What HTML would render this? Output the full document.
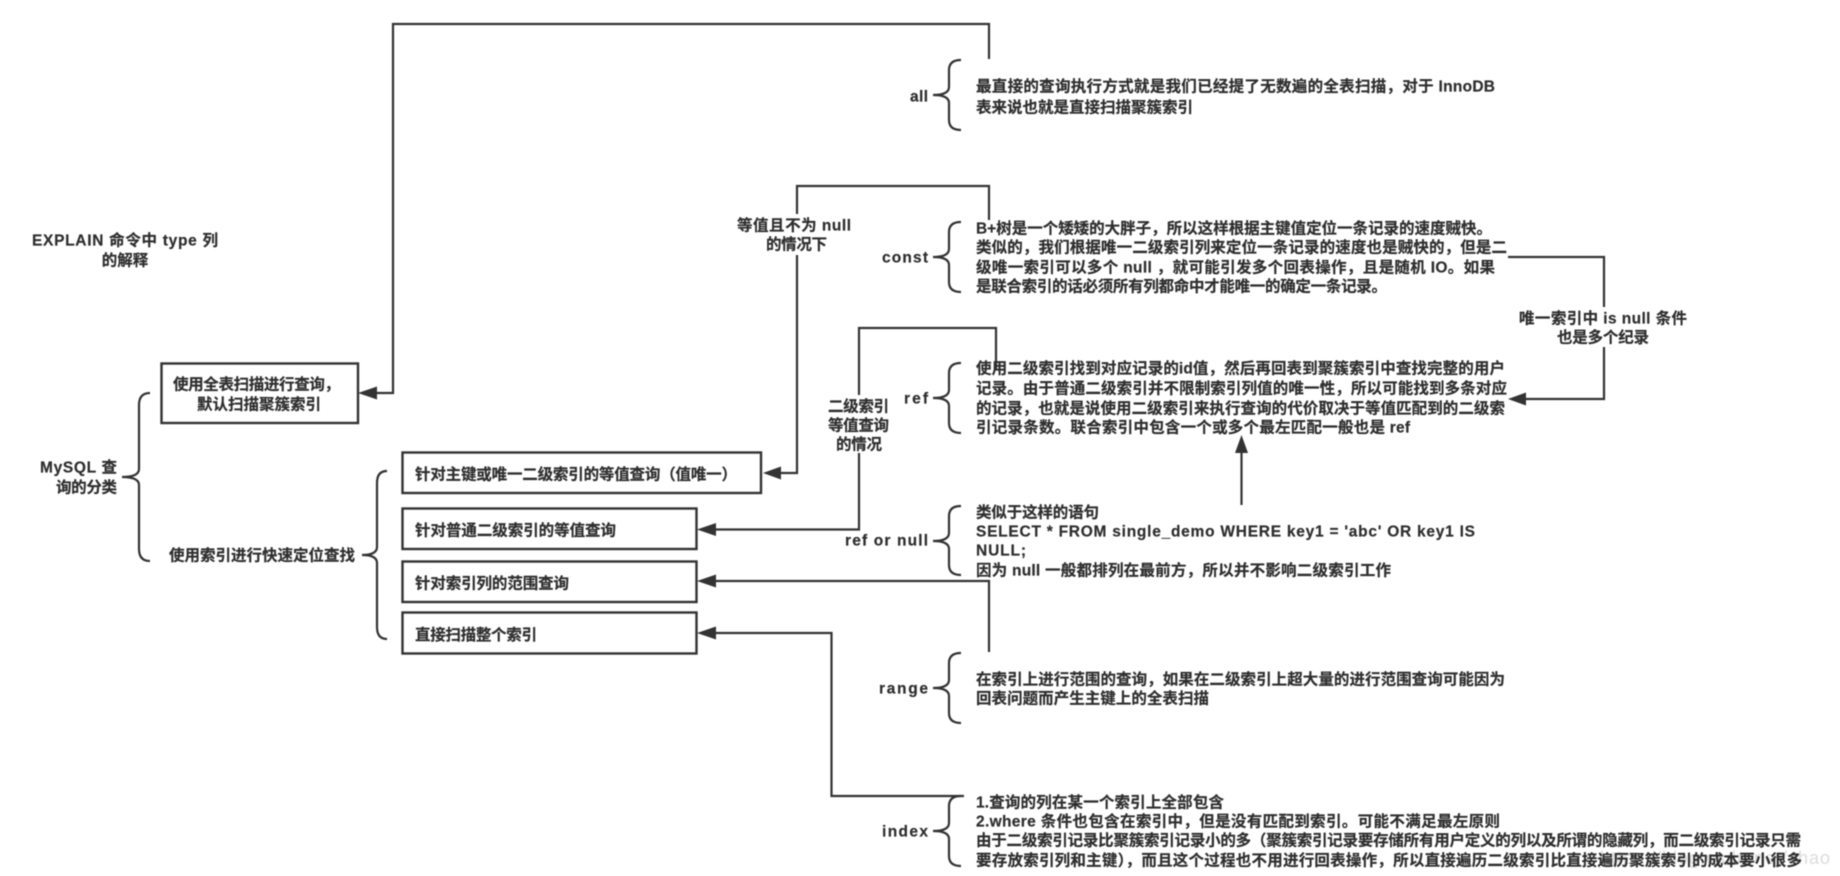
<!DOCTYPE html>
<html><head><meta charset="utf-8"><style>
html,body{margin:0;padding:0;background:#fff;width:1840px;height:876px;overflow:hidden}
svg{display:block;filter:blur(.5px)}
text{font-family:"Liberation Sans","Noto Sans CJK SC",sans-serif;font-size:15.5px;font-weight:bold;fill:#2e2e2e;stroke:#2e2e2e;stroke-width:.2px;dominant-baseline:central}
.l{fill:none;stroke:#333;stroke-width:2.2}
.b{fill:#fff;stroke:#333;stroke-width:2.4}
.a{fill:#333;stroke:none}
</style></head><body>
<svg width="1840" height="876" viewBox="0 0 1840 876" xmlns="http://www.w3.org/2000/svg">
<!-- watermark -->
<text x="1600" y="858" textLength="230" style="fill:#dcdcdc;stroke:none;font-weight:normal;font-size:18px">https://blog.csdn.net/shao</text>
<!-- connectors -->
<path class="l" d="M989 59V24H393V393H376"/>
<path class="a" d="M358 393L377 386.500V399.500Z"/>
<path class="l" d="M989 220V186H797V214M797 255V473H780"/>
<path class="a" d="M763 473L781 466.500V479.500Z"/>
<path class="l" d="M996 370V328H859V395M859 453V529.500H715"/>
<path class="a" d="M697 529.500L716 523V536Z"/>
<path class="l" d="M989 652V581H715"/>
<path class="a" d="M697 581L716 574.500V587.500Z"/>
<path class="l" d="M964 796H831.5V633H715"/>
<path class="a" d="M697 633L716 626.500V639.500Z"/>
<path class="l" d="M1508 257H1604V307M1604 347V399H1525"/>
<path class="a" d="M1508 399L1526 392.500V405.500Z"/>
<path class="l" d="M1241.5 505V450"/>
<path class="a" d="M1241.5 435L1235 453H1248Z"/>
<!-- boxes -->
<rect class="b" x="161.500" y="363.500" width="196.500" height="59.500"/>
<rect class="b" x="402.500" y="452.500" width="358.500" height="40.500"/>
<rect class="b" x="402.500" y="508.500" width="294" height="40.500"/>
<rect class="b" x="402.500" y="561.500" width="294" height="40.500"/>
<rect class="b" x="402.500" y="612.500" width="294" height="41"/>
<!-- braces -->
<path class="l" d="M150 393Q139 393 139 405V469Q139 477 122 477Q139 477 139 485V549Q139 561 150 561"/>
<path class="l" d="M387 471Q377 471 377 483V547Q377 555 362 555Q377 555 377 563V627Q377 639 387 639"/>
<path class="l" d="M961 60Q949 60 949 70V87Q949 95 933 95Q949 95 949 103V120Q949 130 961 130"/>
<path class="l" d="M961 222Q949 222 949 232V249Q949 257 933 257Q949 257 949 265V282Q949 292 961 292"/>
<path class="l" d="M961 363Q949 363 949 373V390Q949 398 933 398Q949 398 949 406V423Q949 433 961 433"/>
<path class="l" d="M961 506Q949 506 949 516V533Q949 541 933 541Q949 541 949 549V565Q949 575 961 575"/>
<path class="l" d="M961 653Q949 653 949 663V680Q949 688 933 688Q949 688 949 696V713Q949 723 961 723"/>
<path class="l" d="M961 796Q949 796 949 806V823Q949 831 933 831Q949 831 949 839V856Q949 866 961 866"/>
<!-- left labels -->
<text x="32" y="241" textLength="186">EXPLAIN 命令中 type 列</text>
<text x="125" y="261" text-anchor="middle">的解释</text>
<text x="40" y="468" textLength="77">MySQL 查</text>
<text x="56" y="488" textLength="61">询的分类</text>
<text x="169" y="556" textLength="186">使用索引进行快速定位查找</text>
<text x="173" y="385" textLength="167">使用全表扫描进行查询，</text>
<text x="197" y="405" textLength="124">默认扫描聚簇索引</text>
<text x="415" y="475" textLength="322">针对主键或唯一二级索引的等值查询（值唯一）</text>
<text x="415" y="531" textLength="201">针对普通二级索引的等值查询</text>
<text x="415" y="584" textLength="154">针对索引列的范围查询</text>
<text x="415" y="635.500" textLength="122">直接扫描整个索引</text>
<!-- connector labels -->
<text x="737" y="226" textLength="114">等值且不为 null</text>
<text x="766" y="245" textLength="61">的情况下</text>
<text x="828" y="407" textLength="61">二级索引</text>
<text x="828" y="426" textLength="61">等值查询</text>
<text x="836" y="445" textLength="46">的情况</text>
<text x="1519" y="319" textLength="168">唯一索引中 is null 条件</text>
<text x="1557" y="338" textLength="92">也是多个纪录</text>
<!-- type labels -->
<text x="910" y="97" textLength="18">all</text>
<text x="882" y="258" textLength="46">const</text>
<text x="904" y="399" textLength="24">ref</text>
<text x="845" y="541" textLength="83">ref or null</text>
<text x="879" y="689" textLength="49">range</text>
<text x="882" y="832" textLength="46">index</text>
<!-- descriptions -->
<text x="976" y="87" textLength="519">最直接的查询执行方式就是我们已经提了无数遍的全表扫描，对于 InnoDB</text>
<text x="976" y="108" textLength="217">表来说也就是直接扫描聚簇索引</text>
<text x="976" y="229" textLength="516">B+树是一个矮矮的大胖子，所以这样根据主键值定位一条记录的速度贼快。</text>
<text x="976" y="248" textLength="531">类似的，我们根据唯一二级索引列来定位一条记录的速度也是贼快的，但是二</text>
<text x="976" y="268" textLength="519">级唯一索引可以多个 null ，就可能引发多个回表操作，且是随机 IO。如果</text>
<text x="976" y="287" textLength="411">是联合索引的话必须所有列都命中才能唯一的确定一条记录。</text>
<text x="976" y="369" textLength="529">使用二级索引找到对应记录的id值，然后再回表到聚簇索引中查找完整的用户</text>
<text x="976" y="389" textLength="531">记录。由于普通二级索引并不限制索引列值的唯一性，所以可能找到多条对应</text>
<text x="976" y="409" textLength="529">的记录，也就是说使用二级索引来执行查询的代价取决于等值匹配到的二级索</text>
<text x="976" y="428" textLength="434">引记录条数。联合索引中包含一个或多个最左匹配一般也是 ref</text>
<text x="976" y="513" textLength="123">类似于这样的语句</text>
<text x="976" y="532" textLength="499">SELECT * FROM single_demo WHERE key1 = 'abc' OR key1 IS</text>
<text x="976" y="551" textLength="50">NULL;</text>
<text x="976" y="571" textLength="415">因为 null 一般都排列在最前方，所以并不影响二级索引工作</text>
<text x="976" y="680" textLength="529">在索引上进行范围的查询，如果在二级索引上超大量的进行范围查询可能因为</text>
<text x="976" y="699" textLength="233">回表问题而产生主键上的全表扫描</text>
<text x="976" y="803" textLength="248">1.查询的列在某一个索引上全部包含</text>
<text x="976" y="822" textLength="524">2.where 条件也包含在索引中，但是没有匹配到索引。可能不满足最左原则</text>
<text x="976" y="841" textLength="825">由于二级索引记录比聚簇索引记录小的多（聚簇索引记录要存储所有用户定义的列以及所谓的隐藏列，而二级索引记录只需</text>
<text x="976" y="861" textLength="826">要存放索引列和主键），而且这个过程也不用进行回表操作，所以直接遍历二级索引比直接遍历聚簇索引的成本要小很多</text>
</svg>
</body></html>
